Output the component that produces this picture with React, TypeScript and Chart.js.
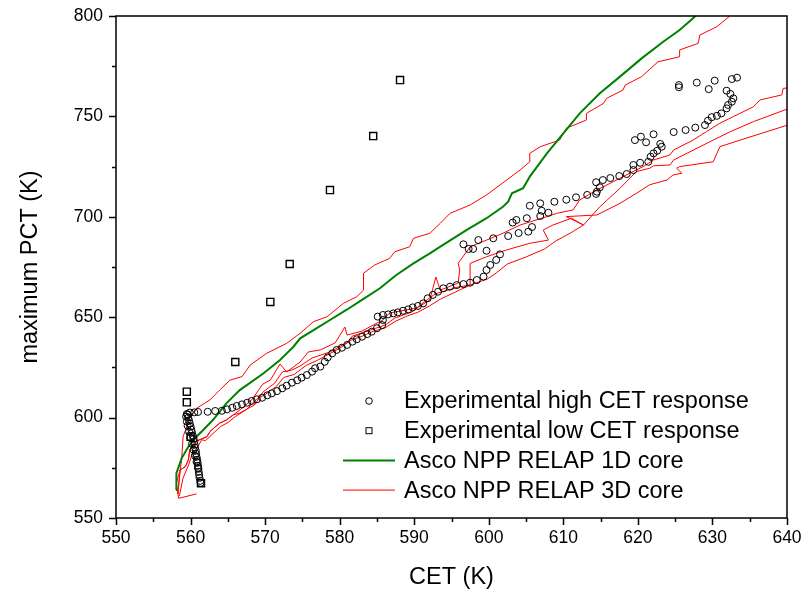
import React, { useEffect, useRef } from "react";
import { Chart, registerables } from "chart.js";
Chart.register(...registerables);

// ---- Experimental high CET response (circles)
const highX = [
  559.6, 559.7, 559.8, 559.9, 560.0, 560.1, 560.2, 560.3, 560.4, 560.5, 560.55, 560.6, 560.7, 560.75, 560.8, 560.9, 560.95, 561.0, 561.05, 561.1, 561.15, 561.2, 561.3, 561.35,
  559.4, 559.5, 559.6, 559.8, 560.0, 560.2, 560.4, 560.6, 560.8, 561.0,
  559.5, 559.9, 560.5, 561.0, 562.3, 563.3, 564.2, 564.9, 565.6, 566.2, 566.9, 567.6, 568.2, 568.9, 569.6, 570.3, 570.9, 571.6, 572.3, 572.9, 573.6, 574.3, 574.9, 575.6, 576.3, 576.7, 577.4, 578.0, 578.4, 579.0, 579.6, 580.3, 581.0, 581.7, 582.3, 583.0, 583.7, 584.3, 585.0, 585.7, 585.8, 585.1, 585.8, 586.5, 587.2, 587.8, 588.5, 589.2, 589.8, 590.5, 591.2, 591.8, 592.5, 593.2, 593.9, 594.8, 595.7, 596.6, 597.5, 598.4, 599.3, 599.7, 600.2, 601.0, 601.5,
  596.6, 597.3, 597.9, 598.6, 599.7, 600.6, 602.6, 604.0, 605.3, 605.8, 603.2, 603.7, 605.1, 606.9, 608.0, 607.1, 605.5, 606.9, 608.8, 610.4, 611.7, 613.2, 614.4, 614.5, 614.9, 614.4, 615.3, 616.3, 617.5, 618.5, 619.4, 619.4, 620.3, 621.4, 621.7, 622.1, 622.6, 623.2, 623.0, 621.1, 619.6, 620.4, 622.1, 624.8, 626.4, 627.7, 629.0, 629.4, 629.9, 630.6, 631.2, 631.9, 632.1, 632.6, 632.8, 632.4, 631.9, 629.5, 625.5, 625.5, 627.9, 630.3, 632.6, 633.3,
];
const highY = [
  601.5, 600.0, 598.5, 597.0, 595.5, 594.0, 592.5, 591.0, 589.5, 588.0, 586.5, 585.0, 583.5, 582.0, 580.5, 579.0, 577.5, 576.0, 574.5, 573.0, 571.5, 570.0, 568.5, 567.5,
  600.5, 598.0, 596.0, 593.0, 590.0, 587.0, 584.0, 581.0, 578.0, 575.0,
  601.8, 602.5, 602.6, 602.8, 602.9, 603.3, 603.4, 604.1, 604.9, 605.8, 606.6, 607.4, 608.3, 609.1, 609.9, 611.1, 612.1, 613.2, 614.6, 615.9, 617.4, 618.6, 619.9, 621.2, 622.9, 624.6, 625.4, 627.8, 630.0, 632.0, 633.7, 634.8, 636.2, 637.8, 639.0, 640.3, 641.6, 642.8, 644.5, 646.1, 648.6, 650.3, 651.1, 651.4, 651.9, 652.4, 653.2, 653.9, 654.9, 655.6, 656.9, 659.4, 661.1, 662.7, 664.4, 665.2, 666.0, 666.5, 667.2, 668.5, 670.2, 673.5, 676.0, 678.5, 681.3,
  686.3, 684.0, 684.0, 688.4, 683.1, 689.3, 690.4, 691.9, 692.6, 694.9, 697.1, 698.4, 699.3, 700.4, 702.0, 703.0, 705.5, 706.7, 707.5, 708.5, 709.7, 710.9, 711.4, 712.5, 714.7, 717.2, 718.3, 719.3, 720.3, 721.3, 723.3, 725.8, 726.9, 727.4, 729.9, 731.6, 732.9, 734.9, 736.3, 737.1, 738.2, 739.9, 741.1, 742.2, 743.2, 744.4, 745.7, 747.9, 749.6, 750.3, 751.5, 754.0, 755.7, 757.3, 759.0, 761.2, 762.8, 763.6, 764.5, 765.6, 766.8, 767.8, 768.6, 769.3,
];

// ---- Experimental low CET response (squares)
const lowX = [559.5, 559.5, 560.0, 561.4, 566.0, 570.7, 573.3, 578.7, 584.5, 588.1];
const lowY = [612.9, 607.6, 590.5, 567.3, 627.7, 657.6, 676.5, 713.3, 740.2, 768.1];

// ---- Asco NPP RELAP 1D core (green)
const r1dX = [558.05, 558.1, 558.8, 559.7, 560.6, 561.7, 563.0, 564.8, 566.6, 569.8, 572.0, 572.9, 573.8, 574.7, 576.5, 578.7, 580.9, 583.2, 585.4, 587.6, 589.9, 592.1, 593.5, 597.0, 599.7, 601.9, 602.6, 603.1, 604.6, 605.5, 607.8, 610.0, 612.2, 614.9, 617.6, 620.5, 623.4, 625.6, 627.4, 628.2];
const r1dY = [563.9, 572.3, 579.7, 585.5, 589.7, 593.8, 598.8, 607.1, 613.7, 622.1, 628.7, 632.0, 635.3, 639.5, 643.6, 648.6, 653.6, 659.1, 664.4, 671.0, 676.8, 681.8, 685.1, 693.4, 699.3, 705.0, 707.5, 711.7, 714.2, 720.0, 731.6, 741.6, 751.5, 761.5, 769.8, 778.9, 787.2, 793.0, 798.9, 802.0];

// ---- Asco NPP RELAP 3D core (red), four traces
const r3dUX = [560.8, 558.4, 558.1, 558.6, 558.8, 559.0, 559.5, 559.9, 560.8, 562.6, 563.9, 565.3, 566.9, 568.0, 570.2, 572.9, 574.7, 576.5, 578.3, 580.5, 582.3, 583.2, 583.2, 584.7, 586.7, 587.4, 589.4, 589.9, 592.1, 593.5, 594.8, 597.5, 599.7, 602.4, 604.2, 605.5, 605.5, 606.9, 609.5, 610.4, 613.1, 613.1, 615.4, 615.8, 618.0, 618.3, 620.5, 622.7, 625.6, 625.6, 628.1, 628.3, 630.6, 633.0];
const r3dUY = [562.0, 559.8, 567.3, 573.9, 578.9, 590.5, 595.5, 600.4, 604.6, 608.8, 613.7, 618.7, 620.4, 626.2, 632.0, 637.0, 642.0, 647.8, 650.2, 656.9, 660.2, 663.5, 671.9, 676.0, 679.3, 682.6, 685.1, 689.3, 691.8, 696.8, 701.7, 705.9, 710.9, 718.3, 723.3, 727.4, 731.6, 734.9, 738.2, 744.1, 748.2, 751.5, 756.5, 759.0, 763.1, 765.6, 769.8, 777.2, 779.7, 783.1, 786.4, 790.5, 794.7, 802.0];

const r3dAX = [558.5, 559.0, 559.8, 560.2, 560.9, 561.5, 562.0, 563.0, 564.0, 565.0, 566.0, 567.5, 568.8, 570.0, 571.5, 572.5, 573.9, 575.5, 577.0, 578.5, 580.0, 581.5, 583.0, 584.5, 586.0, 587.5, 589.0, 590.5, 592.0, 593.5, 595.5, 597.5, 599.8, 601.0, 602.5, 605.0, 607.5, 609.0, 611.0, 612.7, 610.4, 614.5, 617.6, 619.8, 621.6, 623.9, 624.7, 625.9, 625.2, 625.6, 630.1, 630.6, 631.0, 633.7, 637.3, 641.0];
const r3dAY = [561.0, 570.0, 577.0, 582.0, 585.0, 589.0, 588.5, 592.0, 595.5, 597.5, 600.5, 604.0, 609.0, 611.5, 615.5, 620.0, 621.5, 626.0, 628.5, 631.5, 634.5, 638.5, 640.5, 643.0, 644.5, 648.0, 650.5, 652.5, 655.5, 659.0, 662.5, 666.0, 669.0, 672.0, 676.5, 680.0, 684.0, 688.0, 692.0, 695.9, 700.1, 700.9, 706.7, 711.7, 716.0, 718.3, 720.8, 721.7, 724.2, 725.0, 727.4, 731.6, 734.9, 738.2, 742.4, 746.8];

const r3dBX = [558.3, 558.6, 559.3, 559.7, 559.9, 560.4, 560.6, 562.2, 562.6, 563.1, 563.9, 564.8, 565.7, 566.6, 568.6, 569.7, 571.3, 572.3, 573.6, 574.7, 576.3, 578.7, 581.1, 581.7, 584.1, 586.1, 587.4, 589.7, 591.0, 592.8, 595.9, 597.5, 597.5, 599.7, 602.4, 605.5, 608.0, 607.3, 608.6, 611.1, 612.7, 614.9, 617.6, 619.8, 621.6, 622.1, 624.3, 624.8, 627.0, 630.1, 632.4, 635.5, 641.0];
const r3dBY = [562.0, 573.9, 575.6, 578.9, 583.9, 586.4, 588.0, 590.5, 593.0, 594.7, 597.2, 598.8, 601.3, 602.3, 606.3, 612.7, 617.2, 622.7, 623.7, 625.7, 629.7, 632.7, 637.6, 640.6, 643.6, 646.1, 649.6, 652.6, 656.6, 661.6, 665.0, 666.0, 676.8, 680.1, 683.5, 686.8, 688.4, 693.4, 695.9, 699.3, 695.9, 705.0, 714.2, 722.5, 724.2, 725.4, 725.8, 728.3, 732.4, 738.2, 742.4, 747.4, 755.0];

const r3dCX = [558.3, 558.6, 559.3, 559.7, 559.9, 560.4, 560.6, 562.2, 562.6, 563.1, 563.9, 564.8, 565.7, 566.6, 568.2, 569.7, 570.7, 572.0, 572.9, 574.7, 575.8, 577.4, 579.4, 580.7, 581.0, 583.0, 585.0, 585.8, 586.7, 590.4, 592.1, 592.9, 593.5, 595.9, 596.1, 595.9, 597.5, 599.7, 601.9, 604.2, 607.8, 609.1, 611.3, 612.2, 614.5, 616.7, 618.9, 620.7, 622.1, 624.3, 624.8, 627.4, 629.2, 631.0, 632.8, 635.5, 636.4, 639.3, 639.5, 641.0];
const r3dCY = [562.0, 573.9, 575.6, 578.9, 583.9, 586.4, 588.0, 590.5, 593.0, 594.7, 597.2, 598.8, 601.3, 603.8, 608.8, 616.7, 618.7, 626.7, 622.7, 627.7, 632.7, 633.7, 637.2, 645.1, 641.1, 643.1, 647.1, 648.6, 652.1, 654.6, 658.6, 670.0, 663.5, 667.0, 673.5, 676.9, 685.1, 688.4, 691.8, 695.9, 700.1, 701.7, 703.4, 708.4, 713.3, 717.5, 721.7, 725.0, 728.3, 730.8, 733.3, 738.2, 742.4, 746.6, 749.9, 754.8, 758.2, 760.7, 764.0, 764.3];

const xTickValues = [550, 560, 570, 580, 590, 600, 610, 620, 630, 640];
const yTickValues = [550, 600, 650, 700, 750, 800];

const legendLabels = [
  "Experimental high CET response",
  "Experimental low CET response",
  "Asco NPP RELAP 1D core",
  "Asco NPP RELAP 3D core",
];

const FONT = "'Liberation Sans', Arial, Helvetica, sans-serif";

const zip = (xs: number[], ys: number[]) => xs.map((x, i) => ({ x, y: ys[i] }));

const framePlugin = {
  id: "frameTicks",
  afterDraw(chart: any) {
    const { ctx, chartArea } = chart;
    const xs = chart.scales.x;
    const ys = chart.scales.y;
    ctx.save();
    ctx.strokeStyle = "#000";
    ctx.lineWidth = 1.5;
    ctx.strokeRect(chartArea.left, chartArea.top, chartArea.right - chartArea.left, chartArea.bottom - chartArea.top);
    ctx.beginPath();
    for (let v = 550; v <= 640; v += 5) {
      const px = Math.round(xs.getPixelForValue(v)) + 0.5;
      const major = v % 10 === 0;
      ctx.moveTo(px, chartArea.bottom);
      ctx.lineTo(px, chartArea.bottom + (major ? 7 : 4));
    }
    for (let v = 550; v <= 800; v += 25) {
      const py = Math.round(ys.getPixelForValue(v)) + 0.5;
      const major = v % 50 === 0;
      ctx.moveTo(chartArea.left, py);
      ctx.lineTo(chartArea.left - (major ? 7 : 4), py);
    }
    ctx.stroke();
    ctx.restore();
  },
};

const legendPlugin = {
  id: "insideLegend",
  afterDraw(chart: any) {
    const { ctx, chartArea } = chart;
    const left = chartArea.left + 227;
    const top = chartArea.top + 385;
    const rowH = 29.7;
    ctx.save();
    ctx.font = `23.5px ${FONT}`;
    ctx.fillStyle = "#000";
    ctx.textBaseline = "middle";
    legendLabels.forEach((label, i) => {
      const cy = top + i * rowH;
      const mx = left + 26;
      ctx.lineWidth = 1;
      ctx.strokeStyle = "#000";
      if (i === 0) {
        ctx.beginPath();
        ctx.arc(mx, cy, 3.3, 0, Math.PI * 2);
        ctx.stroke();
      } else if (i === 1) {
        ctx.strokeRect(mx - 3, cy - 3, 6, 6);
      } else {
        ctx.beginPath();
        ctx.strokeStyle = i === 2 ? "#008000" : "#ff0000";
        ctx.lineWidth = i === 2 ? 2 : 1;
        ctx.moveTo(left, cy);
        ctx.lineTo(left + 52, cy);
        ctx.stroke();
      }
      ctx.fillText(label, left + 61, cy + 1);
    });
    ctx.restore();
  },
};

export default function App() {
  const ref = useRef<HTMLCanvasElement | null>(null);
  useEffect(() => {
    if (!ref.current) return;
    const redLine = (data: any) => ({
      type: "scatter" as const,
      data,
      showLine: true,
      borderColor: "#ff0000",
      borderWidth: 1,
      pointRadius: 0,
      fill: false,
      tension: 0,
    });
    const chart = new Chart(ref.current, {
      type: "scatter",
      data: {
        datasets: [
          {
            label: legendLabels[0],
            data: zip(highX, highY),
            pointStyle: "circle",
            pointRadius: 3.5,
            borderWidth: 1,
            borderColor: "#000",
            backgroundColor: "rgba(0,0,0,0)",
            showLine: false,
          },
          {
            label: legendLabels[1],
            data: zip(lowX, lowY),
            pointStyle: "rect",
            pointRadius: 5,
            borderWidth: 1.4,
            borderColor: "#000",
            backgroundColor: "rgba(0,0,0,0)",
            showLine: false,
          },
          {
            label: legendLabels[2],
            data: zip(r1dX, r1dY),
            showLine: true,
            borderColor: "#008000",
            borderWidth: 2,
            pointRadius: 0,
            tension: 0,
          },
          { label: legendLabels[3], ...redLine(zip(r3dUX, r3dUY)) },
          { label: legendLabels[3], ...redLine(zip(r3dAX, r3dAY)) },
          { label: legendLabels[3], ...redLine(zip(r3dBX, r3dBY)) },
          { label: legendLabels[3], ...redLine(zip(r3dCX, r3dCY)) },
        ] as any,
      },
      options: {
        animation: false,
        responsive: false,
        maintainAspectRatio: false,
        layout: { padding: { top: 16, right: 19, left: 0, bottom: 0 } },
        plugins: { legend: { display: false }, tooltip: { enabled: false } },
        scales: {
          x: {
            type: "linear",
            min: 550,
            max: 640,
            afterBuildTicks: (s: any) => {
              s.ticks = xTickValues.map((v) => ({ value: v }));
            },
            afterFit: (s: any) => {
              s.height = 80;
              s.paddingLeft = 0;
              s.paddingRight = 0;
            },
            ticks: { color: "#000", font: { family: FONT, size: 17.5 }, padding: 10, maxRotation: 0, autoSkip: false },
            grid: { display: false, drawTicks: false },
            border: { display: false },
            title: { display: true, text: "CET (K)", color: "#000", font: { family: FONT, size: 23.5 }, padding: { top: 0, bottom: 6 } },
          },
          y: {
            type: "linear",
            min: 550,
            max: 800,
            afterBuildTicks: (s: any) => {
              s.ticks = yTickValues.map((v) => ({ value: v }));
            },
            afterFit: (s: any) => {
              s.width = 116;
              s.paddingTop = 0;
              s.paddingBottom = 0;
            },
            ticks: { color: "#000", font: { family: FONT, size: 17.5 }, padding: 13, autoSkip: false },
            grid: { display: false, drawTicks: false },
            border: { display: false },
            title: { display: true, text: "maximum PCT (K)", color: "#000", font: { family: FONT, size: 23.5 }, padding: { top: 16, bottom: 0 } },
          },
        },
      } as any,
      plugins: [framePlugin, legendPlugin],
    });
    return () => chart.destroy();
  }, []);
  return (
    <div style={{ position: "fixed", left: 0, top: 0, width: 806, height: 598, background: "#fff" }}>
      <canvas ref={ref} width={806} height={598} />
    </div>
  );
}
